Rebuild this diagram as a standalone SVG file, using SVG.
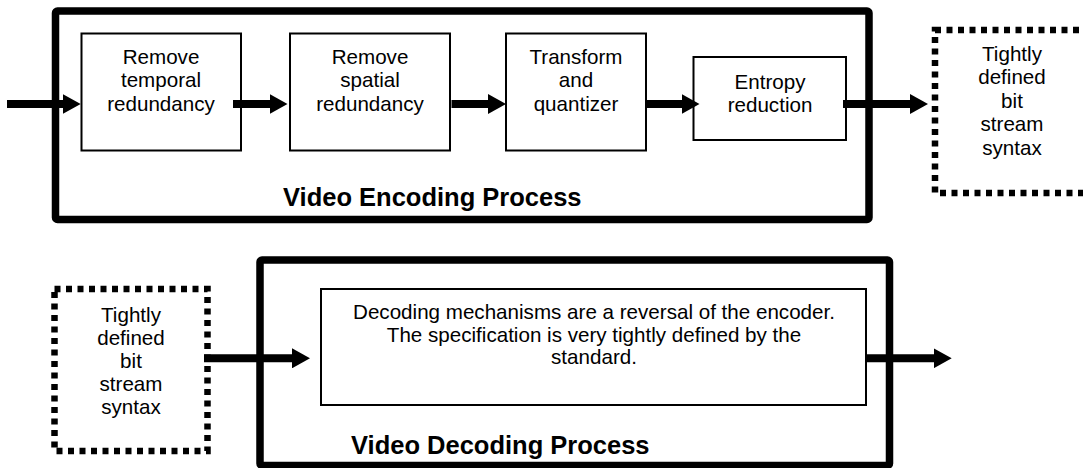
<svg xmlns="http://www.w3.org/2000/svg" width="1083" height="468" viewBox="0 0 1083 468">
  <defs>
    <marker id="ah" markerUnits="userSpaceOnUse" markerWidth="18" markerHeight="20" refX="2" refY="10" orient="auto" viewBox="0 0 18 20">
      <path d="M0,0 L18,10 L0,20 z" fill="#000"/>
    </marker>
    <style>
      .outer { fill: #fff; stroke: #000; stroke-width: 7.5; stroke-linejoin: round; }
      .box { fill: #fff; stroke: #000; stroke-width: 2; }
      .dotted { fill: #fff; stroke: #000; stroke-width: 6.5; stroke-dasharray: 6 5.5; }
      .t { font-family: "Liberation Sans", Arial, sans-serif; font-size: 20.6px; fill: #000; text-anchor: middle; }
      .title { font-family: "Liberation Sans", Arial, sans-serif; font-size: 25.5px; font-weight: bold; fill: #000; }
      .conn { stroke: #000; stroke-width: 8; fill: none; marker-end: url(#ah); }
    </style>
  </defs>
  <rect width="1083" height="468" fill="#fff"/>

  <g id="encoder">
    <rect class="outer" x="55.5" y="11" width="813.5" height="208.5" rx="2"/>
    <text class="title" x="283" y="206">Video Encoding Process</text>
  </g>

  <g id="remove-temporal">
    <rect class="box" x="81.5" y="33.5" width="159.5" height="117"/>
    <text class="t" x="161" y="63.5">Remove</text>
    <text class="t" x="161" y="87.2">temporal</text>
    <text class="t" x="161" y="111">redundancy</text>
  </g>

  <g id="remove-spatial">
    <rect class="box" x="290" y="33.5" width="160" height="117"/>
    <text class="t" x="370" y="63.5">Remove</text>
    <text class="t" x="370" y="87.2">spatial</text>
    <text class="t" x="370" y="111">redundancy</text>
  </g>

  <g id="transform-quantizer">
    <rect class="box" x="506" y="33.5" width="140" height="117"/>
    <text class="t" x="576" y="63.5">Transform</text>
    <text class="t" x="576" y="87.2">and</text>
    <text class="t" x="576" y="111">quantizer</text>
  </g>

  <g id="entropy-reduction">
    <rect class="box" x="693.5" y="57" width="152.5" height="83"/>
    <text class="t" x="770" y="88.5">Entropy</text>
    <text class="t" x="770" y="111.5">reduction</text>
  </g>

  <g id="bitstream-out">
    <rect class="dotted" x="935" y="30" width="154" height="163"/>
    <text class="t" x="1012" y="60.5">Tightly</text>
    <text class="t" x="1012" y="84">defined</text>
    <text class="t" x="1012" y="107.5">bit</text>
    <text class="t" x="1012" y="131">stream</text>
    <text class="t" x="1012" y="154.5">syntax</text>
  </g>

  <g id="bitstream-in">
    <rect class="dotted" x="54.5" y="289" width="153" height="162"/>
    <text class="t" x="131" y="321.5">Tightly</text>
    <text class="t" x="131" y="344.5">defined</text>
    <text class="t" x="131" y="367.5">bit</text>
    <text class="t" x="131" y="390.5">stream</text>
    <text class="t" x="131" y="413.5">syntax</text>
  </g>

  <g id="decoder">
    <rect class="outer" x="260" y="260" width="629.5" height="205.5" rx="2"/>
    <text class="title" x="351" y="454">Video Decoding Process</text>
  </g>

  <g id="decoding-mechanisms">
    <rect class="box" x="321" y="289" width="545" height="116"/>
    <text class="t" x="594" y="319">Decoding mechanisms are a reversal of the encoder.</text>
    <text class="t" x="594" y="341.7">The specification is very tightly defined by the</text>
    <text class="t" x="594" y="364.4">standard.</text>
  </g>

  <g id="connectors">
    <line class="conn" x1="7" y1="104" x2="64.7" y2="104"/>
    <line class="conn" x1="233" y1="104" x2="271.5" y2="104"/>
    <line class="conn" x1="451.5" y1="104" x2="490" y2="104"/>
    <line class="conn" x1="646" y1="104" x2="683.5" y2="104"/>
    <line class="conn" x1="843" y1="104" x2="912" y2="104"/>
    <line class="conn" x1="204" y1="358.3" x2="294" y2="358.3"/>
    <line class="conn" x1="866" y1="358.3" x2="935.7" y2="358.3"/>
  </g>
</svg>
